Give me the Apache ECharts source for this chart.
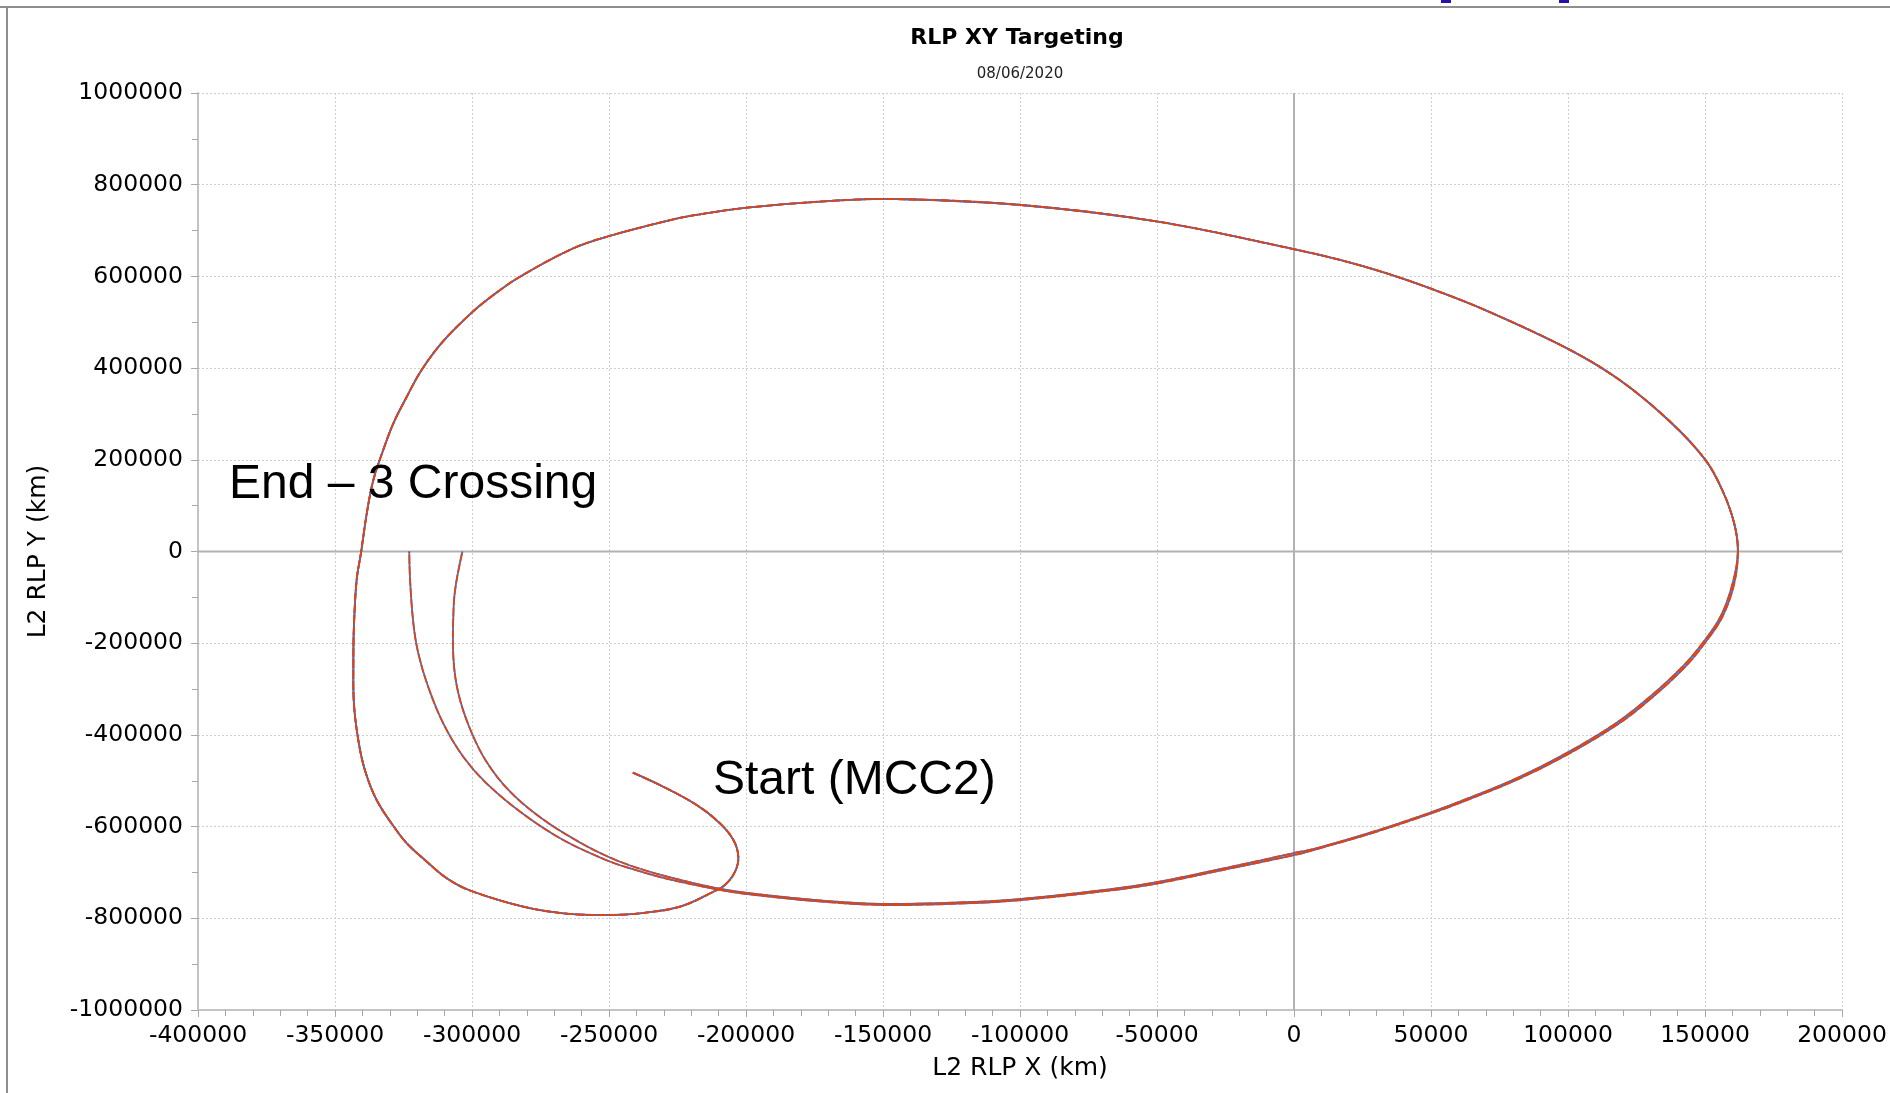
<!DOCTYPE html>
<html><head><meta charset="utf-8">
<script src="https://cdn.jsdelivr.net/npm/echarts@6/dist/echarts.min.js"></script>
<style>html,body{margin:0;padding:0;background:#fff;}#chart{width:1890px;height:1093px;}</style>
</head><body><div id="chart"></div>
<script>
// ---------- texts ----------
const chartTitle = 'RLP XY Targeting';
const chartSubtitle = '08/06/2020';
const xAxisName = 'L2 RLP X (km)';
const yAxisName = 'L2 RLP Y (km)';
const annotationEnd = 'End \u2013 3 Crossing';
const annotationStart = 'Start (MCC2)';

// ---------- tick labels ----------
const xTickValues = [-400000,-350000,-300000,-250000,-200000,-150000,-100000,-50000,0,50000,100000,150000,200000];
const yTickValues = [-1000000,-800000,-600000,-400000,-200000,0,200000,400000,600000,800000,1000000];
const zeroValue = 0;

// ---------- data (km) ----------
// shared part: Start (MCC2) -> hook -> outer left -> top -> right-most crossing
const sharedPath = [
  [-241300,-482400],[-230200,-513000],[-218000,-552900],[-209500,-592800],[-204600,-629200],
  [-202800,-665600],[-204000,-698400],[-207700,-727400],[-211900,-742000],[-224100,-774700],
  [-238700,-789100],[-252100,-792800],[-266700,-789100],[-281300,-774700],[-300700,-739400],
  [-309200,-712700],[-317200,-672800],[-323800,-636400],[-328100,-603700],[-334800,-542000],
  [-339100,-476500],[-341500,-411100],[-343100,-331100],[-343300,-243800],[-343100,-164000],
  [-342100,-62200],[-340500,-2600],[-338400,83300],[-336000,155900],[-332400,221400],
  [-328700,279600],[-323800,337600],[-318400,395900],[-310500,458700],[-299700,523000],
  [-292200,559400],[-282500,599400],[-263000,661300],[-249900,688100],[-226500,724500],
  [-216800,735400],[-199600,749800],[-167600,765100],[-145300,768800],[-99600,755700],
  [-49600,719300],[250,659100],[16800,636000],[33600,607100],[50000,573200],[70000,526000],
  [100000,442000],[118600,375000],[136800,285700],[150000,200900],[156300,133900],
  [160600,62500],[162000,0]
];
// return leg of trajectory 1 -> end crossing (outer)
const returnPathA = [
  [160600,-71400],[156300,-142900],[150000,-199100],[143000,-250000],[130800,-318000],
  [118600,-375000],[100000,-442000],[82200,-495500],[64000,-540200],[50000,-571400],
  [27500,-616100],[9300,-647300],[250,-661900],[-23100,-691000],[-49600,-723700],
  [-67700,-739800],[-99500,-760100],[-120000,-767300],[-149800,-771000],[-172100,-763700],
  [-199600,-747000],[-211200,-736200],[-230100,-712000],[-242300,-691000],[-250900,-673300],
  [-266700,-629200],[-281300,-572500],[-294700,-505600],[-303200,-447500],[-310500,-374800],
  [-316000,-294900],[-319600,-222000],[-321400,-156600],[-322600,-62200],[-322900,0]
];
// return leg of trajectory 2 -> end crossing (inner)
const returnPathB = [
  [160000,-71400],[155600,-142900],[149200,-199100],[142000,-250000],[129700,-318000],
  [117400,-375000],[98800,-442000],[81000,-495500],[62800,-540200],[48800,-571400],
  [26300,-616100],[8100,-647300],[-1000,-658900],[-23100,-688000],[-49600,-720800],
  [-67700,-737200],[-99500,-757800],[-120000,-765000],[-149800,-768700],[-172100,-761500],
  [-199600,-744600],[-211200,-733800],[-230100,-707000],[-242300,-684800],[-250900,-664100],
  [-260600,-634700],[-274000,-584700],[-286100,-523900],[-294700,-458700],[-300700,-387100],
  [-305000,-308600],[-306800,-231000],[-306700,-120400],[-305800,-69000],[-303500,0]
];

const trajectory1 = sharedPath.concat(returnPathA);
const trajectory2 = sharedPath.concat(returnPathB);

// ---------- styling ----------
const BLUE = '#3f6fd0';
const RED = '#d9461c';
const FONT = 'DejaVu Sans';
const xMin = xTickValues[0], xMax = xTickValues[xTickValues.length - 1];
const yMin = yTickValues[0], yMax = yTickValues[yTickValues.length - 1];

// a smooth trajectory curve, positioned through the chart's own axes (api.coord)
function pathSeries(name, data, color, dash, z) {
  return {
    type: 'custom', name: name, data: data, z: z, animation: false, silent: true,
    encode: { x: 0, y: 1 },
    renderItem: function (params, api) {
      if (params.dataIndexInside !== 0) return null;
      const pts = [];
      for (let i = 0; i < params.dataInsideLength; i++) {
        pts.push(api.coord([api.value(0, i), api.value(1, i)]));
      }
      return {
        type: 'polyline',
        shape: { points: pts, smooth: 0.36 },
        style: { stroke: color, lineWidth: 1.8, fill: 'none', lineDash: dash || null }
      };
    }
  };
}
function zeroLineSeries(data) {
  return {
    type: 'line', data: data, showSymbol: false, symbol: 'none', silent: true, z: 1,
    animation: false, lineStyle: { color: '#b2b2b2', width: 2, type: 'solid' }
  };
}

const chart = echarts.init(document.getElementById('chart'), null, { renderer: 'canvas' });
const axisCommon = {
  type: 'value',
  axisLine: { show: true, onZero: false, lineStyle: { color: '#c4c4c4', width: 2 } },
  axisTick: { show: true, inside: false, length: 7, lineStyle: { color: '#a8a8a8', width: 1 } },
  minorTick: { show: true, length: 6, lineStyle: { color: '#a8a8a8', width: 1 } },
  splitLine: { show: true, lineStyle: { color: '#cfcfcf', width: 1, type: [2, 2] } },
  axisLabel: { color: '#000', fontFamily: FONT, fontSize: 23.5, formatter: v => String(v) },
  nameLocation: 'middle',
  nameTextStyle: { color: '#000', fontFamily: FONT, fontSize: 25 }
};

chart.setOption({
  backgroundColor: '#ffffff',
  animation: false,
  title: [
    { text: chartTitle, left: 1012, top: 22, textAlign: 'center',
      textStyle: { fontFamily: FONT, fontSize: 22, fontWeight: 'bold', color: '#000' } },
    { text: chartSubtitle, left: 1015, top: 62, textAlign: 'center',
      textStyle: { fontFamily: FONT, fontSize: 15, fontWeight: 'normal', color: '#222' } }
  ],
  grid: { left: 198, right: 48, top: 93, bottom: 83, containLabel: false },
  xAxis: Object.assign({}, axisCommon, {
    min: xMin, max: xMax, interval: xTickValues[1] - xTickValues[0],
    minorTick: Object.assign({}, axisCommon.minorTick, { splitNumber: 5 }),
    axisLabel: Object.assign({}, axisCommon.axisLabel, { margin: 14 }),
    name: xAxisName, nameGap: 46
  }),
  yAxis: Object.assign({}, axisCommon, {
    min: yMin, max: yMax, interval: yTickValues[1] - yTickValues[0],
    minorTick: Object.assign({}, axisCommon.minorTick, { splitNumber: 2 }),
    axisLabel: Object.assign({}, axisCommon.axisLabel, { margin: 15 }),
    name: yAxisName, nameGap: 147
  }),
  series: [
    zeroLineSeries([[zeroValue, yMin], [zeroValue, yMax]]),
    zeroLineSeries([[xMin, zeroValue], [xMax, zeroValue]]),
    pathSeries('Trajectory 1 (ref)', trajectory1, BLUE, null, 2),
    pathSeries('Trajectory 2 (ref)', trajectory2, BLUE, null, 2),
    pathSeries('Trajectory 1', trajectory1, RED, [9, 2], 3),
    pathSeries('Trajectory 2', trajectory2, RED, [9, 2], 3)
  ],
  graphic: [
    { type: 'line', shape: { x1: 0, y1: 7, x2: 1890, y2: 7 }, style: { stroke: '#8e8e8e', lineWidth: 2 }, z: 100 },
    { type: 'line', shape: { x1: 7, y1: 7, x2: 7, y2: 1093 }, style: { stroke: '#8e8e8e', lineWidth: 2 }, z: 100 },
    { type: 'rect', shape: { x: 1441, y: 0, width: 10, height: 3 }, style: { fill: '#2414a8' }, z: 100 },
    { type: 'rect', shape: { x: 1559, y: 0, width: 10, height: 3 }, style: { fill: '#2414a8' }, z: 100 },
    { type: 'text', left: 229, top: 461, z: 100,
      style: { text: annotationEnd, fill: '#000', font: '48px "Liberation Sans", Arial, sans-serif' } },
    { type: 'text', left: 713, top: 757, z: 100,
      style: { text: annotationStart, fill: '#000', font: '48px "Liberation Sans", Arial, sans-serif' } }
  ]
});
</script>
</body></html>
